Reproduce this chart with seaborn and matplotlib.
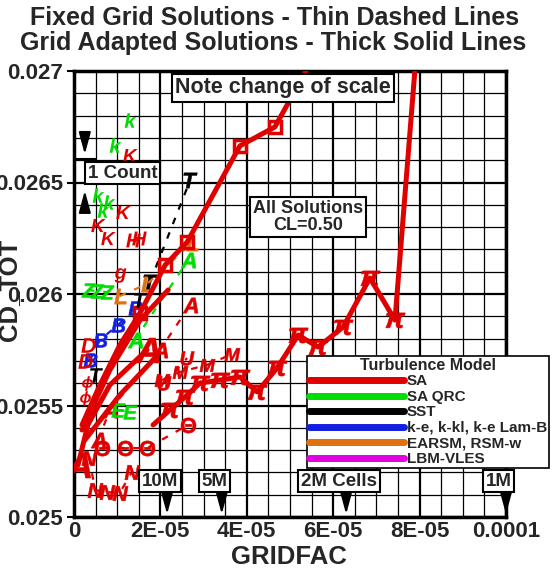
import numpy as np
import pandas as pd
import seaborn as sns
import matplotlib
matplotlib.use("Agg")
import matplotlib.pyplot as plt
from matplotlib.lines import Line2D
from matplotlib.ticker import MultipleLocator, FixedLocator, FixedFormatter

# ---------------- data ----------------
RED, GREEN, BLACK, BLUE, ORANGE, MAGENTA = "#e00000", "#00dd00", "#000000", "#1020e0", "#e07010", "#e000e0"

# Grid adapted (thick solid) SA series
sa_sq_x = [1.85e-6, 6.0e-6, 10.6e-6, 15.3e-6, 21.1e-6, 26.2e-6, 38.4e-6, 46.5e-6, 53.7e-6, 56.5e-6]
sa_sq_y = [0.025413, 0.025592, 0.025771, 0.025915, 0.02613, 0.026233, 0.026664, 0.026749, 0.0270, 0.02720]

sa_pi_x = [18.3e-6, 22.2e-6, 25.7e-6, 29.2e-6, 33.8e-6, 38.4e-6, 42.4e-6, 47.0e-6, 51.9e-6, 56.5e-6, 62.3e-6, 68.5e-6, 74.3e-6, 78.9e-6, 79.6e-6]
sa_pi_y = [0.025413, 0.02548, 0.025538, 0.025601, 0.025614, 0.025628, 0.025561, 0.025668, 0.025816, 0.025762, 0.025852, 0.026072, 0.025883, 0.0270, 0.02714]

sa_a_x = [0.93e-6, 3.2e-6, 8.3e-6, 16.9e-6]
sa_a_y = [0.025233, 0.025413, 0.025592, 0.025749]

sa_l2_x = [1.85e-6, 8.3e-6, 15.3e-6, 21.8e-6]
sa_l2_y = [0.02539, 0.025659, 0.025883, 0.026018]

sa_l4_x = [2.5e-6, 10.6e-6, 19.4e-6]
sa_l4_y = [0.025345, 0.025547, 0.025726]

# Fixed grid (thin dashed) series
m_x = [20.4e-6, 24.5e-6, 30.8e-6, 36.6e-6]
m_y = [0.025614, 0.02565, 0.025682, 0.025731]

o_x = [6.5e-6, 11.8e-6, 16.9e-6, 26.4e-6]
o_y = [0.025309, 0.025309, 0.025309, 0.025413]

n_x = [3.5e-6, 4.9e-6, 7.6e-6, 10.6e-6, 13.4e-6]
n_y = [0.025265, 0.025121, 0.025112, 0.025108, 0.025202]

a_x = [5.6e-6, 8.3e-6, 19.9e-6, 26.9e-6]
a_y = [0.025345, 0.02548, 0.025749, 0.025951]

u_x = [20.9e-6, 26.2e-6]
u_y = [0.025600, 0.025713]

sst_x = [17.6e-6, 26.9e-6]
sst_y = [0.026054, 0.026511]

qrc_a_x = [14.1e-6, 26.4e-6]
qrc_a_y = [0.025794, 0.026152]

qrc_e_x = [10.2e-6, 13.0e-6]
qrc_e_y = [0.02548, 0.025471]

qrc_z_x = [3.2e-6, 5.3e-6, 7.6e-6]
qrc_z_y = [0.026018, 0.026013, 0.026009]

ears_x = [10.6e-6, 16.9e-6, 27.3e-6]
ears_y = [0.025991, 0.026045, 0.026229]

ke_x = [3.7e-6, 6.0e-6, 10.2e-6, 14.1e-6]
ke_y = [0.025704, 0.025794, 0.025861, 0.025937]

# scattered single solutions
green_k_x = [13.0e-6, 9.5e-6, 5.6e-6, 8.1e-6, 6.7e-6]
green_k_y = [0.026780, 0.026668, 0.026444, 0.026412, 0.026377]
red_k_x = [13.0e-6, 11.3e-6, 5.6e-6, 7.9e-6]
red_k_y = [0.026623, 0.026368, 0.026309, 0.026251]
red_h_x = [13.7e-6, 15.0e-6]
red_h_y = [0.026242, 0.026250]
red_g_x = [10.6e-6]
red_g_y = [0.026085]
black_t_x = [15.3e-6, 5.1e-6]
black_t_y = [0.025973, 0.025637]
red_d_x = [3.2e-6, 2.5e-6]
red_d_y = [0.025771, 0.025700]
red_phi_x = [3.0e-6, 2.5e-6]
red_phi_y = [0.025601, 0.025534]

cells = [10e6, 5e6, 2e6, 1e6]
cell_labels = ["10M", "5M", "2M Cells", "1M"]

legend_labels = ["SA", "SA QRC", "SST", "k-e, k-kl, k-e Lam-B", "EARSM, RSM-w", "LBM-VLES"]
legend_colors = [RED, GREEN, BLACK, BLUE, ORANGE, MAGENTA]

xticks = [0, 2e-5, 4e-5, 6e-5, 8e-5, 1e-4]
xticklabels = ["0", "2E-05", "4E-05", "6E-05", "8E-05", "0.0001"]
yticks = [0.025, 0.0255, 0.026, 0.0265, 0.027]
yticklabels = ["0.025", "0.0255", "0.026", "0.0265", "0.027"]

# ---------------- style ----------------
sns.set_theme(style="white")
plt.rcParams["font.family"] = ["Liberation Sans", "DejaVu Sans"]
plt.rcParams["font.weight"] = "bold"
plt.rcParams["mathtext.fontset"] = "custom"
plt.rcParams["mathtext.rm"] = "Liberation Sans:bold"
plt.rcParams["mathtext.it"] = "Liberation Sans:italic:bold"
plt.rcParams["mathtext.bf"] = "Liberation Sans:bold"

fig = plt.figure(figsize=(5.6, 5.73), dpi=100)
ax = fig.add_axes([74/560, 1-517/573, 432/560, 446/573])
ax.set_xlim(0, 1e-4)
ax.set_ylim(0.025, 0.027)


def series(x, y, color, marker, lw, ls="-", ms=10, z=3, every=None):
    df = pd.DataFrame({"x": x, "y": y})
    sns.lineplot(data=df, x="x", y="y", ax=ax, color=color, lw=lw, linestyle=ls,
                 marker=marker, markersize=ms, markeredgecolor=color, markerfacecolor=color,
                 markeredgewidth=0.4, sort=False, estimator=None, zorder=z, clip_on=True,
                 markevery=every)


def points(x, y, color, marker, ms=110):
    df = pd.DataFrame({"x": x, "y": y})
    sns.scatterplot(data=df, x="x", y="y", ax=ax, color=color, marker=marker, s=ms,
                    linewidth=0, zorder=4)

DASH = (0, (3, 4))
# thin dashed fixed-grid solutions
series(m_x, m_y, RED, "$M$", 1.6, DASH, 11)
series(o_x, o_y, RED, r"$\Theta$", 1.6, DASH, 11)
series(n_x, n_y, RED, "$N$", 1.6, DASH, 11)
series(a_x, a_y, RED, "$A$", 1.6, DASH, 11)
series(u_x, u_y, RED, "$U$", 1.6, DASH, 10)
series(sst_x, sst_y, BLACK, "$T$", 1.6, DASH, 11)
series(qrc_a_x, qrc_a_y, GREEN, "$A$", 1.6, DASH, 11)
series(qrc_e_x, qrc_e_y, GREEN, "$E$", 1.6, DASH, 10)
series(qrc_z_x, qrc_z_y, GREEN, "$Z$", 1.6, DASH, 10)
series(ears_x, ears_y, ORANGE, "$L$", 1.6, DASH, 11)
series(ke_x, ke_y, BLUE, "$B$", 1.6, DASH, 10)

points(green_k_x, green_k_y, GREEN, "$k$")
points(red_k_x, red_k_y, RED, "$K$")
points(red_h_x, red_h_y, RED, "$H$")
points(red_g_x, red_g_y, RED, "$g$")
points(black_t_x, black_t_y, BLACK, "$T$")
points(red_d_x, red_d_y, RED, "$D$")
points(red_phi_x, red_phi_y, RED, r"$\phi$")

# thick solid grid-adapted solutions
series(sa_l4_x, sa_l4_y, RED, None, 3.6)
series(sa_l2_x, sa_l2_y, RED, None, 3.6)
series(sa_a_x, sa_a_y, RED, "$A$", 3.6, "-", 18, every=[0, 3])
series(sa_sq_x, sa_sq_y, RED, "s", 3.6, "-", 9, every=[3, 4, 5, 6, 7])
for l in ax.lines[-1:]:
    l.set_markerfacecolor("none")
    l.set_markeredgewidth(2.5)
series(sa_pi_x, sa_pi_y, RED, r"$\pi$", 3.6, "-", 14, every=list(range(1, 13)))

# ---------------- axes / grid ----------------
ax.xaxis.set_major_locator(FixedLocator(xticks))
ax.xaxis.set_major_formatter(FixedFormatter(xticklabels))
ax.yaxis.set_major_locator(FixedLocator(yticks))
ax.yaxis.set_major_formatter(FixedFormatter(yticklabels))
ax.xaxis.set_minor_locator(MultipleLocator(0.5e-5))
ax.yaxis.set_minor_locator(MultipleLocator(0.0001))
ax.set_axisbelow(True)
ax.grid(which="major", color="black", lw=1.6)
ax.grid(which="minor", color="black", lw=0.9)
ax.tick_params(axis="both", which="major", labelsize=16, pad=3)
ax.tick_params(axis="y", which="major", left=True, length=5, width=1.5, color="black")
ax.tick_params(axis="x", which="major", bottom=False, length=0, pad=3)
ax.tick_params(which="minor", length=0)
for lab in ax.get_xticklabels() + ax.get_yticklabels():
    lab.set_fontweight("bold")
for s in ax.spines.values():
    s.set_color("black")
    s.set_linewidth(2.5)
ax.set_xlabel("")
ax.set_ylabel("")
fig.text(289/560, 1-557/573, "GRIDFAC", ha="center", va="center", fontsize=18.5, fontweight="bold")
fig.text(9/560, 1-290/573, "CD_TOT", ha="center", va="center", rotation=90, fontsize=18.5, fontweight="bold")
fig.text(0.49, 1-18/573, "Fixed Grid Solutions - Thin Dashed Lines", ha="center", va="center", fontsize=18, fontweight="bold")
fig.text(0.487, 1-43/573, "Grid Adapted Solutions - Thick Solid Lines", ha="center", va="center", fontsize=18, fontweight="bold")

# ---------------- annotations ----------------
box = dict(boxstyle="square,pad=0.15", fc="white", ec="black", lw=1.5)
ax.text(0.483, 0.962, "Note change of scale", transform=ax.transAxes, ha="center", va="center",
        fontsize=15.5, fontweight="bold", bbox=box, zorder=6)
ax.text(0.542, 0.673, "All Solutions\nCL=0.50", transform=ax.transAxes, ha="center", va="center",
        fontsize=13, fontweight="bold", bbox=box, zorder=6, linespacing=1.0)
ax.text(0.112, 0.771, "1 Count", transform=ax.transAxes, ha="center", va="center",
        fontsize=13.5, fontweight="bold", bbox=box, zorder=6)
arr = dict(arrowstyle="-|>,head_length=1.1,head_width=0.3", color="black", lw=1.5)
ax.annotate("", xy=(0.025, 0.807), xytext=(0.025, 0.862), xycoords="axes fraction", arrowprops=arr, zorder=6)
ax.annotate("", xy=(0.025, 0.738), xytext=(0.025, 0.69), xycoords="axes fraction", arrowprops=arr, zorder=6)
ax.plot([0.005, 0.05], [0.803, 0.803], transform=ax.transAxes, color="black", lw=1.5, zorder=6)

for n, lab in zip(cells, cell_labels):
    gx = n ** (-2.0 / 3.0)
    ax.annotate("", xy=(gx, 0.025), xytext=(gx, 0.025112), xycoords="data", arrowprops=arr, zorder=6,
                annotation_clip=False)
    ax.text(gx - 1.7e-6, 0.025161, lab, ha="center", va="center", fontsize=13.5, fontweight="bold",
            bbox=box, zorder=6)

# ---------------- legend ----------------
handles = [Line2D([], [], color=c, lw=5) for c in legend_colors]
leg = ax.legend(handles, legend_labels, title="Turbulence Model", loc="upper left",
                bbox_to_anchor=(0.539, 0.362), fontsize=11, title_fontproperties={"weight": "bold", "size": 11.5},
                handlelength=6.2, handletextpad=0.2, labelspacing=0.1, borderpad=0.15,
                borderaxespad=0, fancybox=False, framealpha=1, edgecolor="black")
leg.get_frame().set_linewidth(1.2)
leg.set_zorder(7)
for t in leg.get_texts():
    t.set_fontweight("bold")

fig.savefig("out.png", dpi=100)
